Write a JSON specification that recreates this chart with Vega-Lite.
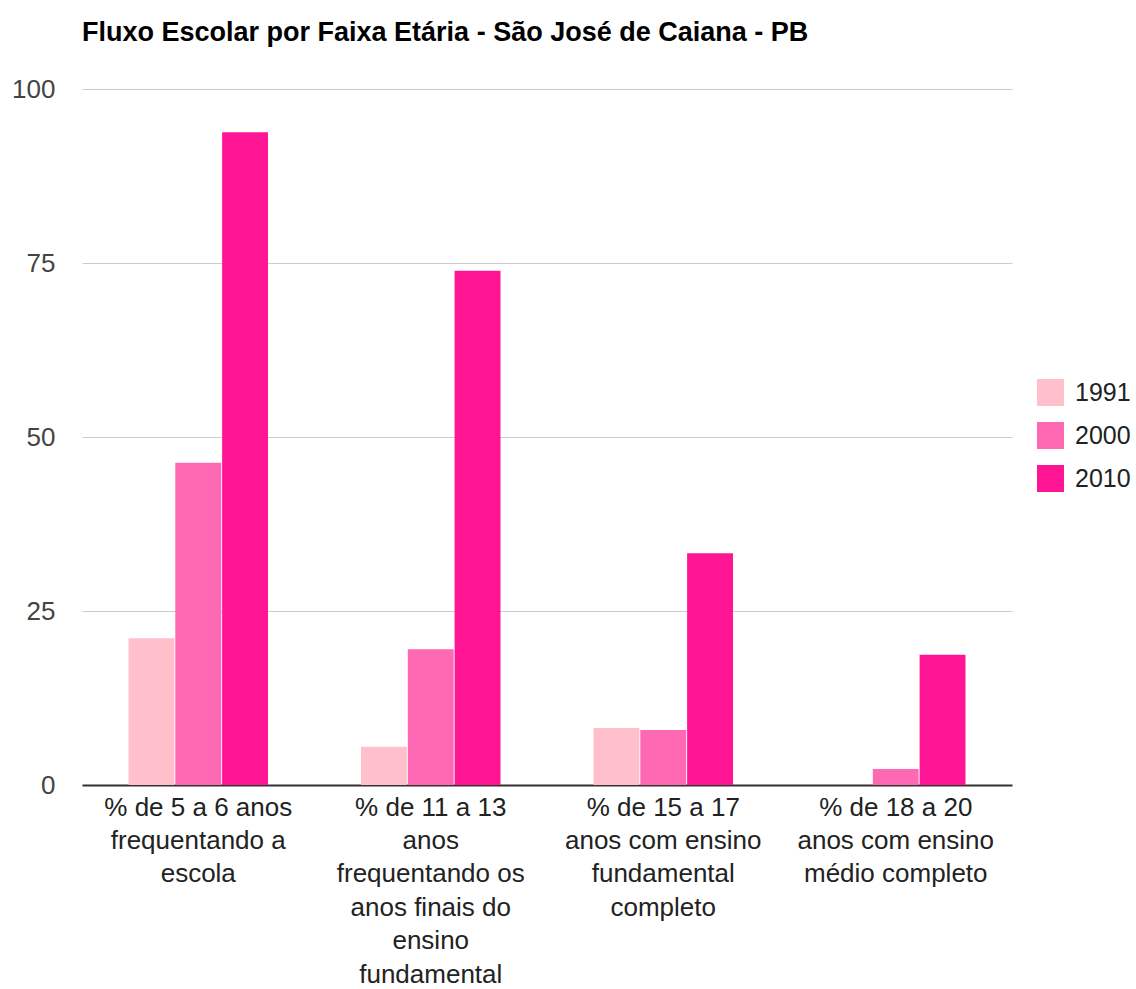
{
  "$schema": "https://vega.github.io/schema/vega-lite/v6.json",
  "width": 930,
  "height": 696,
  "autosize": {"type": "none"},
  "padding": {"left": 82, "top": 89, "right": 124, "bottom": 204},
  "background": "white",
  "title": {
    "text": "Fluxo Escolar por Faixa Etária - São José de Caiana - PB",
    "anchor": "start",
    "frame": "group",
    "font": "Liberation Sans",
    "fontSize": 27,
    "fontWeight": "bold",
    "color": "#000000",
    "offset": 29
  },
  "data": {
    "values": [
      {"cat": "% de 5 a 6 anos|frequentando a|escola", "ano": "1991", "valor": 21.1},
      {"cat": "% de 5 a 6 anos|frequentando a|escola", "ano": "2000", "valor": 46.3},
      {"cat": "% de 5 a 6 anos|frequentando a|escola", "ano": "2010", "valor": 93.8},
      {"cat": "% de 11 a 13|anos|frequentando os|anos finais do|ensino|fundamental", "ano": "1991", "valor": 5.5},
      {"cat": "% de 11 a 13|anos|frequentando os|anos finais do|ensino|fundamental", "ano": "2000", "valor": 19.5},
      {"cat": "% de 11 a 13|anos|frequentando os|anos finais do|ensino|fundamental", "ano": "2010", "valor": 73.9},
      {"cat": "% de 15 a 17|anos com ensino|fundamental|completo", "ano": "1991", "valor": 8.2},
      {"cat": "% de 15 a 17|anos com ensino|fundamental|completo", "ano": "2000", "valor": 7.9},
      {"cat": "% de 15 a 17|anos com ensino|fundamental|completo", "ano": "2010", "valor": 33.3},
      {"cat": "% de 18 a 20|anos com ensino|médio completo", "ano": "1991", "valor": 0},
      {"cat": "% de 18 a 20|anos com ensino|médio completo", "ano": "2000", "valor": 2.3},
      {"cat": "% de 18 a 20|anos com ensino|médio completo", "ano": "2010", "valor": 18.7}
    ]
  },
  "mark": {"type": "bar"},
  "encoding": {
    "x": {
      "field": "cat",
      "type": "nominal",
      "sort": null,
      "title": null,
      "scale": {"paddingInner": 0.4, "paddingOuter": 0.2},
      "axis": {
        "labelAngle": 0,
        "labelExpr": "split(datum.value, '|')",
        "labelFont": "Liberation Sans",
        "labelFontSize": 26,
        "labelColor": "#222222",
        "labelLineHeight": 33.4,
        "labelPadding": 9,
        "labelLimit": 400,
        "ticks": false,
        "domainColor": "#333333",
        "domainWidth": 2,
        "grid": false
      }
    },
    "xOffset": {"field": "ano", "type": "nominal", "scale": {"paddingInner": 0.02, "paddingOuter": 0}},
    "y": {
      "field": "valor",
      "type": "quantitative",
      "title": null,
      "scale": {"domain": [0, 100], "nice": false},
      "axis": {
        "values": [0, 25, 50, 75, 100],
        "labelFont": "Liberation Sans",
        "labelFontSize": 26,
        "labelColor": "#444444",
        "labelPadding": 27,
        "ticks": false,
        "domain": false,
        "gridColor": "#cccccc",
        "gridWidth": 1
      }
    },
    "color": {
      "field": "ano",
      "type": "nominal",
      "scale": {"domain": ["1991", "2000", "2010"], "range": ["#FFC0CB", "#FF69B4", "#FF1493"]},
      "legend": {
        "title": null,
        "orient": "none",
        "legendX": 955,
        "legendY": 290,
        "symbolType": "square",
        "symbolSize": 729,
        "symbolStrokeWidth": 0,
        "labelFont": "Liberation Sans",
        "labelFontSize": 25,
        "labelColor": "#222222",
        "rowPadding": 16,
        "labelOffset": 11
      }
    }
  },
  "config": {"view": {"stroke": null}}
}
